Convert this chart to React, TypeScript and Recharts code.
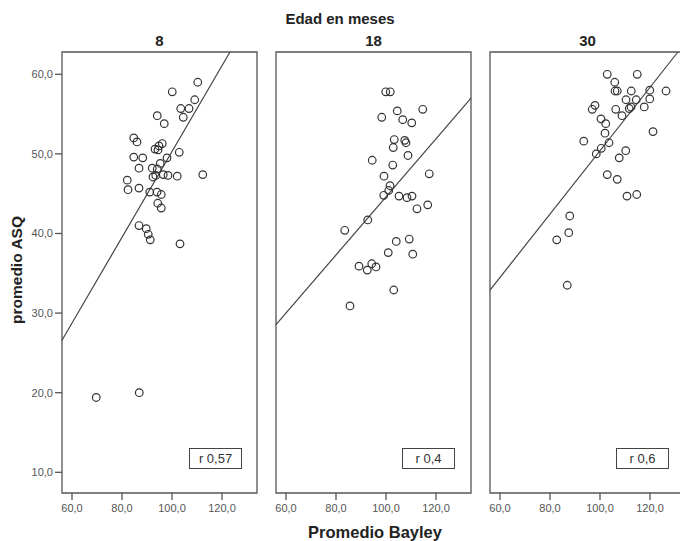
import { ScatterChart, Scatter, XAxis, YAxis, ReferenceArea, ReferenceLine } from 'recharts';

const months = ['8', '18', '30'];
const correlations = ['r 0,57', 'r 0,4', 'r 0,6'];

const bayley8 = [110.3, 100.1, 109.1, 103.5, 106.8, 104.5, 94.1, 96.9, 84.7, 86.0, 96.1, 94.8, 93.2, 94.4, 102.9, 84.7, 88.3, 98.0, 95.3, 86.8, 92.1, 94.1, 96.5, 98.4, 102.1, 112.3, 92.4, 93.5, 82.1, 82.4, 86.8, 91.1, 94.0, 95.7, 94.3, 95.7, 86.8, 89.7, 90.5, 91.3, 103.2, 69.7, 86.9];
const asq8 = [59.0, 57.8, 56.8, 55.7, 55.7, 54.6, 54.8, 53.8, 52.0, 51.5, 51.3, 51.0, 50.6, 50.5, 50.2, 49.6, 49.5, 49.5, 48.8, 48.2, 48.2, 48.1, 47.4, 47.3, 47.2, 47.4, 47.1, 47.3, 46.7, 45.5, 45.7, 45.2, 45.2, 44.9, 43.8, 43.2, 41.0, 40.6, 39.9, 39.2, 38.7, 19.4, 20.0];

const bayley18 = [99.9, 101.7, 114.7, 104.5, 98.3, 106.7, 110.3, 103.3, 107.5, 108.0, 102.9, 108.8, 94.5, 102.7, 117.3, 99.2, 101.6, 101.1, 99.1, 105.2, 108.4, 110.4, 116.7, 112.4, 92.7, 83.5, 104.1, 109.3, 100.9, 110.7, 89.2, 94.3, 96.0, 92.5, 103.1, 85.6];
const asq18 = [57.8, 57.8, 55.6, 55.4, 54.6, 54.3, 53.9, 51.8, 51.7, 51.4, 50.8, 49.8, 49.2, 48.6, 47.5, 47.2, 46.0, 45.4, 44.8, 44.7, 44.5, 44.7, 43.6, 43.1, 41.7, 40.4, 39.0, 39.3, 37.6, 37.4, 35.9, 36.2, 35.8, 35.4, 32.9, 30.9];

const bayley30 = [102.9, 114.9, 105.9, 106.0, 106.9, 112.5, 119.9, 126.4, 110.4, 114.5, 119.9, 98.0, 96.9, 106.3, 111.7, 112.4, 117.7, 108.8, 100.4, 102.3, 102.0, 121.2, 93.5, 103.6, 100.5, 98.5, 110.3, 107.7, 102.9, 106.9, 110.8, 114.7, 87.9, 87.5, 82.7, 86.9];
const asq30 = [60.0, 60.0, 59.0, 57.9, 57.9, 57.9, 58.0, 57.9, 56.8, 56.8, 56.9, 56.1, 55.6, 55.6, 55.7, 55.9, 55.9, 54.8, 54.4, 53.8, 52.6, 52.8, 51.6, 51.4, 50.7, 50.0, 50.4, 49.5, 47.4, 46.8, 44.7, 44.9, 42.2, 40.1, 39.2, 33.5];

// fitted regression line per panel: asq = intercept + slope * bayley
const fitIntercept = [-3.6, 8.1, 10.6];
const fitSlope = [0.539, 0.365, 0.398];

const xTicks = [60, 80, 100, 120];
const yTicks = [10, 20, 30, 40, 50, 60];
const X_MIN = 56;
const X_MAX = 134;
const Y_MIN = 7.4;
const Y_MAX = 62.8;

const FONT = '"Liberation Sans", Arial, sans-serif';
const fmt = (v: number) => v.toFixed(1).replace('.', ',');

const toPoints = (xs: number[], ys: number[]) => xs.map((x, i) => ({ x, y: ys[i] }));
const panels = [
  toPoints(bayley8, asq8),
  toPoints(bayley18, asq18),
  toPoints(bayley30, asq30),
];

function fitSegment(i: number) {
  const f = (x: number) => fitIntercept[i] + fitSlope[i] * x;
  const inv = (y: number) => (y - fitIntercept[i]) / fitSlope[i];
  let x1 = X_MIN, y1 = f(X_MIN);
  if (y1 < Y_MIN) { x1 = inv(Y_MIN); y1 = Y_MIN; }
  let x2 = X_MAX, y2 = f(X_MAX);
  if (y2 > Y_MAX) { x2 = inv(Y_MAX); y2 = Y_MAX; }
  return [{ x: x1, y: y1 }, { x: x2, y: y2 }];
}

const OpenCircle = (props: any) => (
  <circle cx={props.cx} cy={props.cy} r={3.8} fill="none" stroke="#333" strokeWidth={1.2} />
);

function Panel({ idx, left }: { idx: number; left: number }) {
  const showY = idx === 0;
  const width = showY ? 262 : 205;
  return (
    <div style={{ position: 'absolute', left, top: 0 }}>
      <ScatterChart width={width} height={541} margin={{ top: 52, right: 5, bottom: 18, left: showY ? 12 : 5 }}>
        <XAxis
          type="number"
          dataKey="x"
          domain={[X_MIN, X_MAX]}
          ticks={xTicks}
          allowDataOverflow
          tickFormatter={fmt}
          axisLine={false}
          tickLine={{ stroke: '#555', strokeWidth: 1.3 }}
          tickSize={7}
          tickMargin={4}
          height={30}
          tick={{ fontSize: 11, fill: '#555', fontFamily: FONT }}
        />
        <YAxis
          type="number"
          dataKey="y"
          domain={[Y_MIN, Y_MAX]}
          ticks={yTicks}
          allowDataOverflow
          hide={!showY}
          width={showY ? 50 : 0}
          tickFormatter={fmt}
          axisLine={false}
          tickLine={{ stroke: '#555', strokeWidth: 1.3 }}
          tickSize={7}
          tickMargin={2}
          tick={{ fontSize: 11, fill: '#555', fontFamily: FONT }}
        />
        <ReferenceArea x1={X_MIN} x2={X_MAX} y1={Y_MIN} y2={Y_MAX} fill="none" fillOpacity={0} stroke="#555" strokeWidth={1.3} />
        <ReferenceLine segment={fitSegment(idx)} stroke="#444" strokeWidth={1.2} />
        <Scatter data={panels[idx]} shape={OpenCircle} isAnimationActive={false} />
      </ScatterChart>
    </div>
  );
}

const panelLefts = [0, 271, 485];
const panelCenters = [159.5, 373.5, 587.5];
const boxLefts = [189, 402, 616];

export default function App() {
  return (
    <div style={{ position: 'absolute', left: 0, top: 0, width: 680, height: 541, overflow: 'hidden', background: '#fff', fontFamily: FONT, color: '#222' }}>
      <div style={{ position: 'absolute', left: 340, top: 18, transform: 'translate(-50%, -50%)', fontWeight: 'bold', fontSize: 15, whiteSpace: 'nowrap' }}>
        Edad en meses
      </div>
      {months.map((m, i) => (
        <div key={m} style={{ position: 'absolute', left: panelCenters[i], top: 40, transform: 'translate(-50%, -50%)', fontWeight: 'bold', fontSize: 15 }}>
          {m}
        </div>
      ))}
      {panelLefts.map((l, i) => (
        <Panel key={i} idx={i} left={l} />
      ))}
      {correlations.map((r, i) => (
        <div
          key={r}
          style={{
            position: 'absolute',
            left: boxLefts[i],
            top: 448,
            width: 53,
            height: 21,
            boxSizing: 'border-box',
            border: '1px solid #444',
            background: '#fff',
            fontSize: 13,
            lineHeight: '19px',
            textAlign: 'center',
            color: '#333',
          }}
        >
          {r}
        </div>
      ))}
      <div style={{ position: 'absolute', left: 17, top: 270, transform: 'translate(-50%, -50%) rotate(-90deg)', fontWeight: 'bold', fontSize: 15.5, whiteSpace: 'nowrap' }}>
        promedio ASQ
      </div>
      <div style={{ position: 'absolute', left: 375, top: 532, transform: 'translate(-50%, -50%)', fontWeight: 'bold', fontSize: 16.5, whiteSpace: 'nowrap' }}>
        Promedio Bayley
      </div>
    </div>
  );
}
